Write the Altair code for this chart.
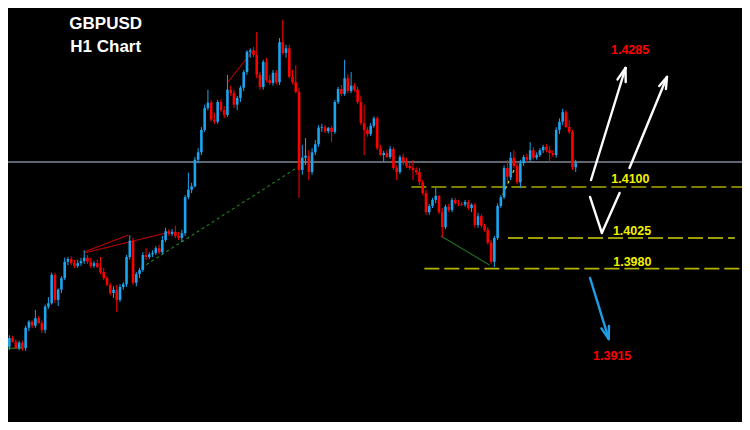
import altair as alt
import pandas as pd

# ---------------- candle data (GBPUSD H1) ----------------
opens = [1.3885, 1.3865, 1.3878, 1.3872, 1.3863, 1.3871, 1.3863, 1.3893, 1.3902, 1.3896,
         1.3907, 1.3900, 1.3890, 1.3924, 1.3929, 1.3971, 1.3934, 1.3949, 1.3966, 1.3990,
         1.3994, 1.3988, 1.3984, 1.3988, 1.3991, 1.3996, 1.3990, 1.3984, 1.3988, 1.3982,
         1.3975, 1.3966, 1.3956, 1.3944, 1.3949, 1.3934, 1.3953, 1.3957, 1.3997, 1.4021,
         1.3959, 1.3972, 1.3978, 1.4000, 1.3997, 1.4001, 1.4003, 1.4010, 1.4004, 1.4022,
         1.4035, 1.4031, 1.4034, 1.4028, 1.4025, 1.4032, 1.4085, 1.4096, 1.4101, 1.4140,
         1.4151, 1.4184, 1.4216, 1.4224, 1.4199, 1.4196, 1.4225, 1.4213, 1.4206, 1.4243,
         1.4238, 1.4221, 1.4231, 1.4246, 1.4269, 1.4299, 1.4301, 1.4294, 1.4265, 1.4247,
         1.4284, 1.4257, 1.4253, 1.4268, 1.4254, 1.4313, 1.4297, 1.4304, 1.4262, 1.4254,
         1.4240, 1.4125, 1.4143, 1.4146, 1.4122, 1.4151, 1.4163, 1.4187, 1.4188, 1.4182,
         1.4187, 1.4181, 1.4225, 1.4244, 1.4237, 1.4260, 1.4241, 1.4249, 1.4243, 1.4225,
         1.4194, 1.4184, 1.4178, 1.4190, 1.4201, 1.4157, 1.4147, 1.4150, 1.4144, 1.4156,
         1.4128, 1.4122, 1.4144, 1.4137, 1.4131, 1.4128, 1.4125, 1.4122, 1.4107, 1.4091,
         1.4063, 1.4072, 1.4081, 1.4087, 1.4063, 1.4041, 1.4071, 1.4066, 1.4081, 1.4076,
         1.4075, 1.4074, 1.4078, 1.4069, 1.4074, 1.4044, 1.4057, 1.4043, 1.4037, 1.4018,
         1.3990, 1.4025, 1.4072, 1.4085, 1.4128, 1.4115, 1.4143, 1.4131, 1.4107, 1.4135,
         1.4144, 1.4140, 1.4154, 1.4143, 1.4147, 1.4154, 1.4159, 1.4154, 1.4150, 1.4147,
         1.4184, 1.4196, 1.4210, 1.4188, 1.4181, 1.4129]

closes = [1.3865, 1.3878, 1.3872, 1.3863, 1.3871, 1.3863, 1.3893, 1.3902, 1.3896, 1.3907,
          1.3900, 1.3890, 1.3924, 1.3929, 1.3971, 1.3934, 1.3949, 1.3966, 1.3990, 1.3994,
          1.3988, 1.3984, 1.3988, 1.3991, 1.3996, 1.3990, 1.3984, 1.3988, 1.3982, 1.3975,
          1.3966, 1.3956, 1.3944, 1.3949, 1.3934, 1.3953, 1.3957, 1.3997, 1.4021, 1.3959,
          1.3972, 1.3978, 1.4000, 1.3997, 1.4001, 1.4003, 1.4010, 1.4004, 1.4022, 1.4035,
          1.4031, 1.4034, 1.4028, 1.4025, 1.4032, 1.4085, 1.4096, 1.4101, 1.4140, 1.4151,
          1.4184, 1.4216, 1.4224, 1.4199, 1.4196, 1.4225, 1.4213, 1.4206, 1.4243, 1.4238,
          1.4221, 1.4231, 1.4246, 1.4269, 1.4299, 1.4301, 1.4294, 1.4265, 1.4247, 1.4284,
          1.4257, 1.4253, 1.4268, 1.4254, 1.4313, 1.4297, 1.4304, 1.4262, 1.4254, 1.4240,
          1.4125, 1.4143, 1.4146, 1.4122, 1.4151, 1.4163, 1.4187, 1.4188, 1.4182, 1.4187,
          1.4181, 1.4225, 1.4244, 1.4237, 1.4260, 1.4241, 1.4249, 1.4243, 1.4225, 1.4194,
          1.4184, 1.4178, 1.4190, 1.4201, 1.4157, 1.4147, 1.4150, 1.4144, 1.4156, 1.4128,
          1.4122, 1.4144, 1.4137, 1.4131, 1.4128, 1.4125, 1.4122, 1.4107, 1.4091, 1.4063,
          1.4072, 1.4081, 1.4087, 1.4063, 1.4041, 1.4071, 1.4066, 1.4081, 1.4076, 1.4075,
          1.4074, 1.4078, 1.4069, 1.4074, 1.4044, 1.4057, 1.4043, 1.4037, 1.4018, 1.3990,
          1.4025, 1.4072, 1.4085, 1.4128, 1.4115, 1.4143, 1.4131, 1.4107, 1.4135, 1.4144,
          1.4140, 1.4154, 1.4143, 1.4147, 1.4154, 1.4159, 1.4154, 1.4150, 1.4147, 1.4184,
          1.4196, 1.4210, 1.4188, 1.4181, 1.4129, 1.4135]

highs = [1.3893, 1.3882, 1.3881, 1.3876, 1.3874, 1.3874, 1.3896, 1.3904, 1.3904, 1.3919,
         1.3910, 1.3904, 1.3927, 1.3938, 1.3974, 1.3974, 1.3951, 1.3969, 1.3996, 1.3997,
         1.3998, 1.3993, 1.3993, 1.3996, 1.4007, 1.4000, 1.3996, 1.3991, 1.3993, 1.3997,
         1.3981, 1.3969, 1.3959, 1.3954, 1.3956, 1.3957, 1.3960, 1.4000, 1.4029, 1.4025,
         1.3975, 1.3981, 1.4004, 1.4010, 1.4004, 1.4007, 1.4013, 1.4015, 1.4028, 1.4040,
         1.4038, 1.4038, 1.4043, 1.4034, 1.4037, 1.4088, 1.4121, 1.4106, 1.4144, 1.4157,
         1.4188, 1.4221, 1.4243, 1.4228, 1.4209, 1.4228, 1.4229, 1.4219, 1.4265, 1.4249,
         1.4243, 1.4234, 1.4249, 1.4272, 1.4301, 1.4304, 1.4306, 1.4328, 1.4269, 1.4287,
         1.4290, 1.4265, 1.4272, 1.4272, 1.4319, 1.4346, 1.4309, 1.4309, 1.4272, 1.4279,
         1.4246, 1.4162, 1.4172, 1.4154, 1.4157, 1.4169, 1.4191, 1.4193, 1.4191, 1.4188,
         1.4190, 1.4228, 1.4247, 1.4250, 1.4287, 1.4266, 1.4269, 1.4253, 1.4247, 1.4234,
         1.4221, 1.4188, 1.4194, 1.4204, 1.4204, 1.4162, 1.4153, 1.4154, 1.4160, 1.4159,
         1.4132, 1.4147, 1.4149, 1.4143, 1.4137, 1.4140, 1.4129, 1.4128, 1.4110, 1.4096,
         1.4075, 1.4084, 1.4099, 1.4088, 1.4069, 1.4074, 1.4075, 1.4084, 1.4084, 1.4081,
         1.4078, 1.4081, 1.4081, 1.4076, 1.4076, 1.4062, 1.4060, 1.4046, 1.4041, 1.4022,
         1.4028, 1.4076, 1.4088, 1.4132, 1.4140, 1.4151, 1.4154, 1.4137, 1.4140, 1.4147,
         1.4149, 1.4166, 1.4159, 1.4151, 1.4157, 1.4162, 1.4163, 1.4160, 1.4154, 1.4188,
         1.4201, 1.4215, 1.4213, 1.4199, 1.4184, 1.4140]

lows = [1.3860, 1.3860, 1.3871, 1.3862, 1.3860, 1.3859, 1.3859, 1.3888, 1.3893, 1.3893,
        1.3899, 1.3885, 1.3885, 1.3921, 1.3927, 1.3929, 1.3925, 1.3944, 1.3963, 1.3985,
        1.3985, 1.3981, 1.3981, 1.3984, 1.3987, 1.3987, 1.3981, 1.3981, 1.3981, 1.3972,
        1.3963, 1.3954, 1.3941, 1.3937, 1.3916, 1.3931, 1.3949, 1.3953, 1.3993, 1.3956,
        1.3954, 1.3966, 1.3975, 1.3993, 1.3994, 1.3997, 1.4000, 1.4001, 1.4001, 1.4019,
        1.4028, 1.4028, 1.4025, 1.4022, 1.4019, 1.4028, 1.4082, 1.4091, 1.4099, 1.4135,
        1.4147, 1.4181, 1.4213, 1.4196, 1.4193, 1.4193, 1.4210, 1.4201, 1.4203, 1.4234,
        1.4216, 1.4213, 1.4225, 1.4241, 1.4265, 1.4290, 1.4291, 1.4260, 1.4243, 1.4243,
        1.4254, 1.4250, 1.4249, 1.4251, 1.4250, 1.4294, 1.4290, 1.4260, 1.4251, 1.4238,
        1.4084, 1.4118, 1.4132, 1.4110, 1.4118, 1.4147, 1.4159, 1.4181, 1.4179, 1.4179,
        1.4166, 1.4178, 1.4222, 1.4234, 1.4234, 1.4238, 1.4238, 1.4240, 1.4222, 1.4191,
        1.4147, 1.4174, 1.4175, 1.4187, 1.4154, 1.4146, 1.4137, 1.4143, 1.4141, 1.4125,
        1.4110, 1.4119, 1.4132, 1.4128, 1.4125, 1.4110, 1.4118, 1.4103, 1.4088, 1.4059,
        1.4059, 1.4069, 1.4076, 1.4060, 1.4026, 1.4038, 1.4063, 1.4063, 1.4074, 1.4072,
        1.4072, 1.4071, 1.4066, 1.4063, 1.4040, 1.4040, 1.4040, 1.4034, 1.4015, 1.3987,
        1.3982, 1.4022, 1.4069, 1.4082, 1.4106, 1.4110, 1.4128, 1.4104, 1.4099, 1.4131,
        1.4137, 1.4137, 1.4140, 1.4140, 1.4144, 1.4150, 1.4151, 1.4137, 1.4144, 1.4143,
        1.4178, 1.4191, 1.4187, 1.4178, 1.4125, 1.4122]

bid_price = [1.41368]

# horizontal levels (price, first bar, last bar, colour)
level_prices = [1.4100, 1.4025, 1.3980]
level_start = [124.5, 154.2, 128.5]
level_end = [232.0, 223.9, 232.0]
level_colors = ["#a8a800", "#d2d200", "#b4b400"]

# white projection arrows (segments: bar, price -> bar, price)
white_x = [179.70, 190.30, 190.30, 191.52, 203.03, 203.03, 179.39, 183.03]
white_y = [1.41103, 1.42750, 1.42750, 1.41279, 1.42618, 1.42618, 1.40853, 1.40324]
white_x2 = [190.30, 190.36, 187.85, 203.03, 200.67, 202.73, 183.03, 188.48]
white_y2 = [1.42750, 1.42544, 1.42582, 1.42618, 1.42484, 1.42441, 1.40324, 1.40912]

# blue projection arrow
blue_x = [179.39, 185.15, 185.15]
blue_y = [1.39662, 1.38765, 1.38765]
blue_x2 = [185.15, 182.88, 185.21]
blue_y2 = [1.38765, 1.38921, 1.38956]

# thin study lines
study_x = [23.94, 23.94, 68.18, 133.6, 0.0, 151.82, 41.5]
study_y = [1.40044, 1.40029, 1.42544, 1.40279, 1.3863, 1.40809, 1.39809]
study_x2 = [37.58, 49.7, 75.45, 148.5, 5.1, 156.06, 89.7]
study_y2 = [1.40294, 1.40330, 1.42985, 1.39853, 1.3863, 1.41250, 1.41294]
study_colors = ["#c00000", "#c00000", "#c00000", "#1f6f1f", "#1f8f1f", "#e0e000", "#1f7a1f"]
study_dash = ["solid", "solid", "solid", "solid", "solid", "dot", "dot"]

# text
title_text = ["GBPUSD", "H1 Chart"]
title_x = [30.6, 30.6]
title_y = [1.43397, 1.43059]

label_text = ["1.4285", "1.4100", "1.4025", "1.3980", "1.3915"]
label_x = [191.7, 191.8, 192.3, 192.4, 186.2]
label_y = [1.43015, 1.41118, 1.40353, 1.39897, 1.38515]
label_colors = ["#ff0000", "#f0f000", "#f0f000", "#f0f000", "#ff0000"]

# ---------------- chart ----------------
n = len(closes)
candles = pd.DataFrame({
    "bar": list(range(n)),
    "open": opens, "high": highs, "low": lows, "close": closes,
})
candles["dir"] = ["up" if c >= o else "down" for o, c in zip(opens, closes)]

xs = alt.Scale(domain=[2.12, 224.55], nice=False, zero=False)
ys = alt.Scale(domain=[1.37544, 1.43632], nice=False, zero=False)
candle_color = alt.Color("dir:N", scale=alt.Scale(domain=["up", "down"],
                                                   range=["#1ca4ee", "#ff0000"]), legend=None)

base = alt.Chart(candles)
wicks = base.mark_rule(strokeWidth=1, clip=True).encode(
    x=alt.X("bar:Q", scale=xs, axis=None),
    y=alt.Y("low:Q", scale=ys, axis=None),
    y2="high:Q",
    color=candle_color,
)
bodies = base.mark_bar(size=2.6, clip=True).encode(
    x=alt.X("bar:Q", scale=xs, axis=None),
    y=alt.Y("open:Q", scale=ys, axis=None),
    y2="close:Q",
    color=candle_color,
)

bid = alt.Chart(pd.DataFrame({"p": bid_price})).mark_rule(
    color="#7d8b99", strokeWidth=1.4, clip=True
).encode(y=alt.Y("p:Q", scale=ys, axis=None))

levels = alt.Chart(pd.DataFrame({
    "p": level_prices, "a": level_start, "b": level_end, "c": level_colors
})).mark_rule(strokeWidth=1.7, strokeDash=[15, 5], clip=True).encode(
    x=alt.X("a:Q", scale=xs, axis=None), x2="b:Q",
    y=alt.Y("p:Q", scale=ys, axis=None),
    color=alt.Color("c:N", scale=None),
)

studies_df = pd.DataFrame({"x": study_x, "y": study_y, "x2": study_x2, "y2": study_y2,
                           "c": study_colors, "d": study_dash})
studies_solid = alt.Chart(studies_df).transform_filter("datum.d == 'solid'").mark_rule(
    strokeWidth=1.1, clip=True).encode(
    x=alt.X("x:Q", scale=xs, axis=None), x2="x2:Q",
    y=alt.Y("y:Q", scale=ys, axis=None), y2="y2:Q",
    color=alt.Color("c:N", scale=None),
)
studies_dot = alt.Chart(studies_df).transform_filter("datum.d == 'dot'").mark_rule(
    strokeWidth=1.2, strokeDash=[3, 3], clip=True).encode(
    x=alt.X("x:Q", scale=xs, axis=None), x2="x2:Q",
    y=alt.Y("y:Q", scale=ys, axis=None), y2="y2:Q",
    color=alt.Color("c:N", scale=None),
)

white_arrows = alt.Chart(pd.DataFrame({"x": white_x, "y": white_y, "x2": white_x2, "y2": white_y2})).mark_rule(
    color="#ffffff", strokeWidth=2.4, strokeCap="round", clip=True
).encode(
    x=alt.X("x:Q", scale=xs, axis=None), x2="x2:Q",
    y=alt.Y("y:Q", scale=ys, axis=None), y2="y2:Q",
)

blue_arrow = alt.Chart(pd.DataFrame({"x": blue_x, "y": blue_y, "x2": blue_x2, "y2": blue_y2})).mark_rule(
    color="#1e9de4", strokeWidth=2.4, strokeCap="round", clip=True
).encode(
    x=alt.X("x:Q", scale=xs, axis=None), x2="x2:Q",
    y=alt.Y("y:Q", scale=ys, axis=None), y2="y2:Q",
)

titles = alt.Chart(pd.DataFrame({"t": title_text, "x": title_x, "y": title_y})).mark_text(
    font="Liberation Sans", fontSize=17, fontWeight="bold", color="#ffffff",
    align="center", baseline="middle"
).encode(
    x=alt.X("x:Q", scale=xs, axis=None),
    y=alt.Y("y:Q", scale=ys, axis=None),
    text="t:N",
)

labels = alt.Chart(pd.DataFrame({"t": label_text, "x": label_x, "y": label_y, "c": label_colors})).mark_text(
    font="Liberation Sans", fontSize=12.5, fontWeight="bold",
    align="center", baseline="middle"
).encode(
    x=alt.X("x:Q", scale=xs, axis=None),
    y=alt.Y("y:Q", scale=ys, axis=None),
    text="t:N",
    color=alt.Color("c:N", scale=None),
)

chart = alt.layer(
    bid, levels, studies_dot, studies_solid, wicks, bodies,
    white_arrows, blue_arrow, titles, labels
).resolve_scale(color="independent").properties(
    width=734, height=414, background="#000000", padding=0,
    autosize=alt.AutoSizeParams(type="none")
).configure_view(stroke=None, fill="#000000")

chart.save("out.html", embed_options={"renderer": "svg", "actions": False})
